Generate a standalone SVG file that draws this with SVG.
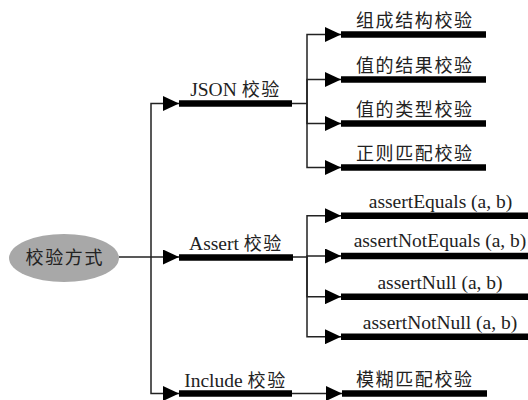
<svg xmlns="http://www.w3.org/2000/svg" width="528" height="400" viewBox="0 0 528 400">
<defs>
<style>
.lbl{font-family:"Liberation Serif","Noto Sans CJK SC",serif;font-size:19.5px;fill:#222;text-anchor:middle}
.cjk{font-family:"Noto Sans CJK SC",sans-serif;font-size:18px;letter-spacing:1.6px}
.bar{stroke:#000;stroke-width:6.5;stroke-linecap:butt}
.con{fill:none;stroke:#222;stroke-width:1.5}
</style>
<marker id="arr" markerUnits="userSpaceOnUse" markerWidth="16" markerHeight="15" refX="16" refY="7.5" orient="auto">
<path d="M0,0 L16,7.5 L0,15 z" fill="#000"/>
</marker>
</defs>
<rect width="528" height="400" fill="#fff"/>
<g id="connectors">
<path class="con" d="M119,257 H179" marker-end="url(#arr)"/>
<path class="con" d="M151,257 V103.5 H179" marker-end="url(#arr)"/>
<path class="con" d="M151,257 V393.5 H179" marker-end="url(#arr)"/>
<path class="con" d="M292,103.5 H307 V34.5 H341" marker-end="url(#arr)"/>
<path class="con" d="M307,103.5 V79.5 H341" marker-end="url(#arr)"/>
<path class="con" d="M307,103.5 V123.5 H341" marker-end="url(#arr)"/>
<path class="con" d="M307,103.5 V167.5 H341" marker-end="url(#arr)"/>
<path class="con" d="M293,257 H307 V215.7 H341" marker-end="url(#arr)"/>
<path class="con" d="M307,257 V256 H341" marker-end="url(#arr)"/>
<path class="con" d="M307,257 V296.7 H341" marker-end="url(#arr)"/>
<path class="con" d="M307,257 V336.7 H341" marker-end="url(#arr)"/>
<path class="con" d="M292,393.5 H342" marker-end="url(#arr)"/>
</g>
<g id="root">
<ellipse cx="64" cy="258" rx="55" ry="24" fill="#a8a8a8"/>
<text class="lbl" x="64.8" y="264"><tspan class="cjk">校验方式</tspan></text>
</g>
<g id="json">
<line class="bar" x1="179" y1="103.5" x2="292" y2="103.5"/>
<text class="lbl" x="235.5" y="96">JSON <tspan class="cjk">校验</tspan></text>
</g>
<g id="assert">
<line class="bar" x1="179" y1="257.5" x2="293" y2="257.5"/>
<text class="lbl" x="236" y="249.5">Assert <tspan class="cjk">校验</tspan></text>
</g>
<g id="include">
<line class="bar" x1="179" y1="393.5" x2="292" y2="393.5"/>
<text class="lbl" x="235.5" y="386.5">Include <tspan class="cjk">校验</tspan></text>
</g>
<g id="json-structure">
<line class="bar" x1="341" y1="34.5" x2="486" y2="34.5"/>
<text class="lbl" x="414.8" y="27"><tspan class="cjk">组成结构校验</tspan></text>
</g>
<g id="json-result">
<line class="bar" x1="341" y1="79.5" x2="486" y2="79.5"/>
<text class="lbl" x="414.8" y="71.5"><tspan class="cjk">值的结果校验</tspan></text>
</g>
<g id="json-type">
<line class="bar" x1="341" y1="123.5" x2="486" y2="123.5"/>
<text class="lbl" x="414.8" y="115.5"><tspan class="cjk">值的类型校验</tspan></text>
</g>
<g id="json-regex">
<line class="bar" x1="341" y1="167.5" x2="486" y2="167.5"/>
<text class="lbl" x="414.8" y="160"><tspan class="cjk">正则匹配校验</tspan></text>
</g>
<g id="assert-equals">
<line class="bar" x1="341" y1="215.7" x2="528" y2="215.7"/>
<text class="lbl" x="440.5" y="208">assertEquals (a, b)</text>
</g>
<g id="assert-notequals">
<line class="bar" x1="341" y1="256" x2="528" y2="256"/>
<text class="lbl" x="440" y="247">assertNotEquals (a, b)</text>
</g>
<g id="assert-null">
<line class="bar" x1="341" y1="296.7" x2="528" y2="296.7"/>
<text class="lbl" x="440" y="289">assertNull (a, b)</text>
</g>
<g id="assert-notnull">
<line class="bar" x1="341" y1="336.7" x2="528" y2="336.7"/>
<text class="lbl" x="440" y="328.5">assertNotNull (a, b)</text>
</g>
<g id="include-fuzzy">
<line class="bar" x1="342" y1="393.5" x2="487" y2="393.5"/>
<text class="lbl" x="414.8" y="385.5"><tspan class="cjk">模糊匹配校验</tspan></text>
</g>
</svg>
